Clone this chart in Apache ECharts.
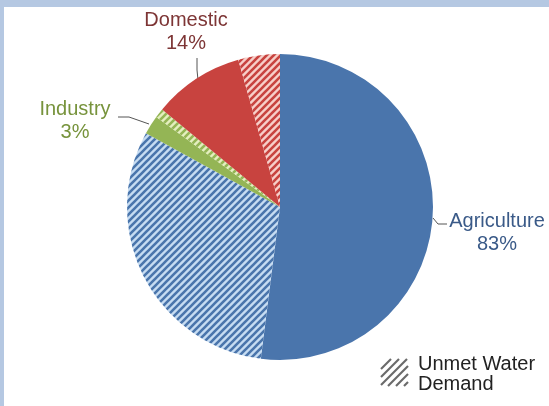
<!DOCTYPE html>
<html><head><meta charset="utf-8">
<script src="https://cdn.jsdelivr.net/npm/echarts@6/dist/echarts.min.js"></script>
<style>html,body{margin:0;padding:0;background:#fff}#c{width:549px;height:406px}</style>
</head><body><div id="c"></div>
<script>
// Data
const categories = ['Agriculture', 'Industry', 'Domestic'];
const totals = [83, 3, 14];          // shown percentages
const metShare = [52, 2, 9.6];       // solid part
const unmetShare = [31, 1, 4.4];     // hatched part (unmet water demand)
const legendLines = ['Unmet Water', 'Demand'];

const solidColors = ['#4a75ac', '#94b555', '#c8433f'];
const lightColors = ['#c6dcf2', '#e4efbe', '#f7cfc9'];
const labelColors = ['#3a5a88', '#77933c', '#7d3535'];

function hatch(dark, light) {
  const s = 7, c = document.createElement('canvas');
  c.width = s; c.height = s;
  const g = c.getContext('2d');
  g.fillStyle = light; g.fillRect(0, 0, s, s);
  g.strokeStyle = dark; g.lineWidth = 2.6;
  g.beginPath();
  g.moveTo(-1, s + 1); g.lineTo(s + 1, -1);
  g.moveTo(-2, 2); g.lineTo(2, -2);
  g.moveTo(s - 2, s + 2); g.lineTo(s + 2, s - 2);
  g.stroke();
  return { image: c, repeat: 'repeat' };
}

const slices = [];
categories.forEach((name, i) => {
  slices.push({ name: name + ' (met)', value: metShare[i], itemStyle: { color: solidColors[i] } });
  slices.push({ name: name + ' (unmet)', value: unmetShare[i], itemStyle: { color: hatch(solidColors[i], lightColors[i]) } });
});

const labelPos = [
  { x: 497, y: 233, line: [[433, 218], [438, 224], [447, 224]] },
  { x: 75, y: 121, line: [[149, 124], [129, 117], [118, 117]] },
  { x: 186, y: 32, line: [[198, 80], [197, 70], [197, 58]] }
];

const FONT = 'Liberation Sans, Arial, sans-serif';
const chart = echarts.init(document.getElementById('c'), null, { renderer: 'canvas' });
const cx = 280, cy = 207, R = 153;
// legend hatch icon: 45° lines clipped to a small square
const bx0 = 381, bx1 = 408, by0 = 359, by1 = 386;
const legendHatch = [750, 758, 766, 774, 782, 790].map(c => {
  const xa = Math.max(bx0, c - by1), xb = Math.min(bx1, c - by0);
  return {
    type: 'line', silent: true,
    shape: { x1: xa, y1: c - xa, x2: xb, y2: c - xb },
    style: { stroke: '#6a6a6a', lineWidth: 2.2 }
  };
});
chart.setOption({
  backgroundColor: '#fff',
  animation: false,
  series: [
    {
      type: 'pie', center: [cx, cy], radius: [0, R], startAngle: 90, clockwise: true,
      label: { show: false }, labelLine: { show: false }, silent: true,
      itemStyle: { borderWidth: 0 },
      data: slices
    },
    {
      type: 'pie', center: [cx, cy], radius: [0, R], startAngle: 90, clockwise: true,
      silent: true,
      itemStyle: { color: 'rgba(0,0,0,0)' },
      label: {
        show: true,
        fontFamily: FONT,
        fontSize: 20, lineHeight: 23, align: 'center',
        formatter: p => p.name + '\n' + totals[p.dataIndex] + '%'
      },
      labelLine: { show: true, lineStyle: { color: '#555', width: 1 } },
      labelLayout: p => {
        const l = labelPos[p.dataIndex];
        return { x: l.x, y: l.y, align: 'center', verticalAlign: 'middle', labelLinePoints: l.line };
      },
      data: categories.map((n, i) => ({ name: n, value: totals[i], label: { color: labelColors[i] } }))
    }
  ],
  graphic: [
    { type: 'rect', shape: { x: 0, y: 0, width: 549, height: 7 }, style: { fill: '#b5c8e2' }, silent: true },
    { type: 'rect', shape: { x: 0, y: 0, width: 4, height: 406 }, style: { fill: '#b5c8e2' }, silent: true }
  ].concat(legendHatch).concat([
    { type: 'text', x: 418, y: 354, silent: true, style: { text: legendLines.join('\n'), fill: '#222', fontSize: 20, lineHeight: 20, fontFamily: FONT } }
  ])
});
</script></body></html>
